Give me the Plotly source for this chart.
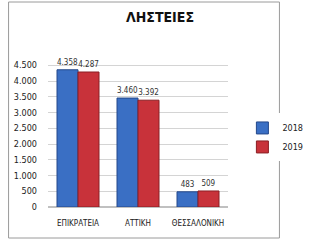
import plotly.graph_objects as go

categories = ["ΕΠΙΚΡΑΤΕΙΑ", "ΑΤΤΙΚΗ", "ΘΕΣΣΑΛΟΝΙΚΗ"]
years = ["2018", "2019"]
values_2018 = [4358, 3460, 483]
values_2019 = [4287, 3392, 509]
tick_vals = [0, 500, 1000, 1500, 2000, 2500, 3000, 3500, 4000, 4500]

font = "Liberation Sans Narrow, DejaVu Sans Condensed, Liberation Sans, sans-serif"
colors = ["#3a6fc4", "#c8323a"]
edge = ["#24488a", "#8a1f24"]

fig = go.Figure()
for name, vals, c, e in zip(years, [values_2018, values_2019], colors, edge):
    fig.add_trace(go.Bar(
        x=categories, y=vals, name=name,
        marker=dict(color=c, line=dict(color=e, width=1)),
        text=vals, texttemplate="%{y:,}", textposition="outside",
        constraintext="none",
        textfont=dict(size=8, color="#333333", family=font),
        cliponaxis=False,
    ))

W, H = 320, 240
l, r, t, b = 48, 62, 59, 33
pw, ph = W - l - r, H - t - b
fig.update_layout(
    width=W, height=H,
    margin=dict(l=l, r=r, t=t, b=b),
    paper_bgcolor="white", plot_bgcolor="white",
    separators=",.",
    barmode="group", bargap=0.3, bargroupgap=0.0,
    title=dict(text="<b>ΛΗΣΤΕΙΕΣ</b>", x=0.5, xanchor="center", y=0.93, yanchor="middle",
               font=dict(size=14, color="#111111", family=font)),
    font=dict(family=font, size=9, color="#333333"),
    xaxis=dict(showgrid=False, showline=False, ticks="", tickfont=dict(size=8, color="#222222"),
               ticklabelstandoff=10),
    yaxis=dict(range=[0, 4700], tickvals=tick_vals, tickformat=",", showgrid=True,
               gridcolor="#d4d4d4", gridwidth=1, zeroline=True, zerolinecolor="#c0c0c0",
               showline=False, ticks="", tickfont=dict(size=9, color="#222222"),
               ticklabelstandoff=10),
    legend=dict(x=1.08, y=0.47, xanchor="left", yanchor="middle", orientation="v",
                font=dict(size=9, color="#222222"), itemwidth=30, tracegroupgap=6),
    showlegend=True,
    shapes=[dict(type="rect", xref="paper", yref="paper",
                 x0=(2 - l) / pw, x1=(W - 2 - l) / pw,
                 y0=-(b - 2) / ph, y1=(H - 2 - b) / ph,
                 line=dict(color="#9a9a9a", width=1), fillcolor="rgba(0,0,0,0)", layer="below")],
)
fig.write_html("out.html")
